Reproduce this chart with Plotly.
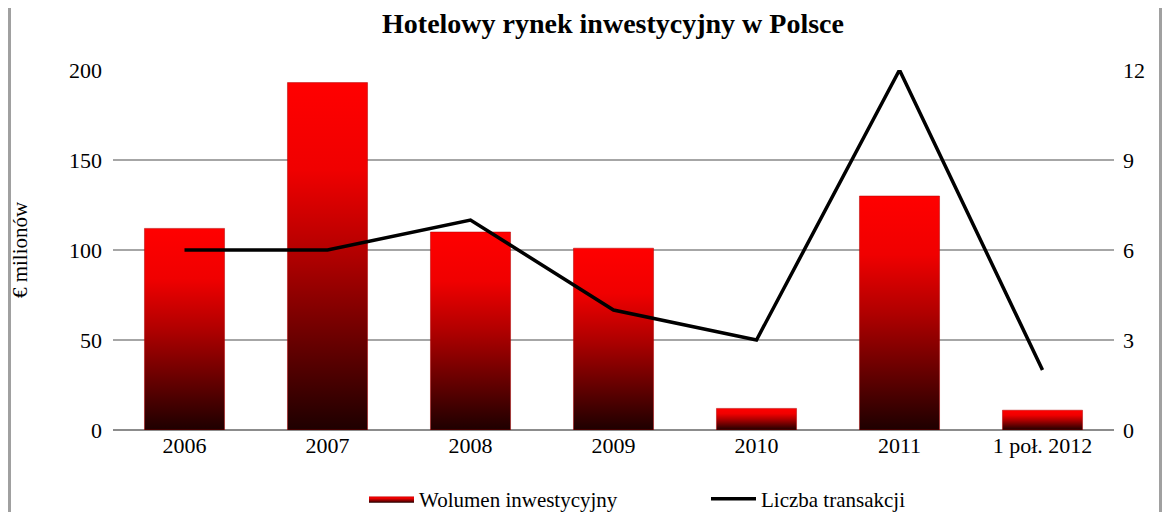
import plotly.graph_objects as go

# data
categories = ["2006", "2007", "2008", "2009", "2010", "2011", "1 poł. 2012"]
volume = [112, 193, 110, 101, 12, 130, 11]          # € milionów
deals = [6, 6, 7, 4, 3, 12, 2]                       # liczba transakcji

left_ticks = [0, 50, 100, 150, 200]
right_ticks = [0, 3, 6, 9, 12]

FONT = "Liberation Serif, Times New Roman, serif"
BAR_HALF = 0.28
GRADIENT = [[0.0, "#1e0000"], [0.5, "#b00000"], [0.75, "#f00000"], [1.0, "#ff0000"]]

# page is drawn with an 8px body margin, so keep the figure small enough to avoid scrollbars
W, H = 1154, 504
M = dict(l=105, r=48, t=62, b=82)

fig = go.Figure()

# gradient bars drawn as filled shapes so each one gets its own vertical gradient
for i, (cat, v) in enumerate(zip(categories, volume)):
    xs = [i - BAR_HALF, i + BAR_HALF, i + BAR_HALF, i - BAR_HALF, i - BAR_HALF]
    ys = [0, 0, v, v, 0]
    fig.add_trace(go.Scatter(
        x=xs, y=ys, mode="lines", fill="toself",
        line=dict(width=0.5, color="#b00000"),
        fillgradient=dict(type="vertical", colorscale=GRADIENT, start=0, stop=v),
        name="Wolumen inwestycyjny", legendgroup="vol",
        showlegend=(i == 0), hoverinfo="skip",
    ))

fig.add_trace(go.Scatter(
    x=list(range(len(categories))), y=deals, yaxis="y2",
    mode="lines", line=dict(color="black", width=3.5),
    name="Liczba transakcji",
))

# outer frame of the original picture (gray on left and right)
pw = W - M["l"] - M["r"]
ph = H - M["t"] - M["b"]
x_left = (1.5 - M["l"]) / pw
x_right = (W - 1.5 - M["l"]) / pw
y_top = (H - M["b"]) / ph
y_bot = -M["b"] / ph
for xp in (x_left, x_right):
    fig.add_shape(type="line", xref="paper", yref="paper",
                  x0=xp, x1=xp, y0=y_bot, y1=y_top,
                  line=dict(color="#a0a0a0", width=3))

fig.update_layout(
    width=W, height=H,
    margin=dict(M, autoexpand=False),
    paper_bgcolor="white", plot_bgcolor="white",
    font=dict(family=FONT, size=22, color="black"),
    title=dict(text="<b>Hotelowy rynek inwestycyjny w Polsce</b>",
               x=(605 - M["l"]) / pw, xref="paper", xanchor="center",
               y=1 - 15 / H, yanchor="middle",
               font=dict(size=28, family=FONT)),
    xaxis=dict(
        tickmode="array", tickvals=list(range(len(categories))), ticktext=categories,
        range=[-0.5, len(categories) - 0.5], showgrid=False, zeroline=False,
        showline=False, ticks="", ticklen=0, automargin=False,
    ),
    yaxis=dict(
        title=dict(text="€ milionów", font=dict(size=21), standoff=44),
        range=[0, 200], tickvals=left_ticks, showgrid=True, gridcolor="#a6a6a6",
        gridwidth=1.5, zeroline=True, zerolinecolor="#8c8c8c", zerolinewidth=2,
        showline=False, ticks="", ticklabelstandoff=10, automargin=False,
    ),
    yaxis2=dict(
        overlaying="y", side="right", range=[0, 12], tickvals=right_ticks,
        showgrid=False, zeroline=False, showline=False, ticks="",
        ticklabelstandoff=8, automargin=False,
    ),
    legend=dict(orientation="h", x=(698 - M["l"]) / pw, xanchor="center",
                y=-0.192, yanchor="middle",
                font=dict(size=21), itemwidth=45, entrywidth=282),
    showlegend=True,
)

fig.write_html("out.html")
